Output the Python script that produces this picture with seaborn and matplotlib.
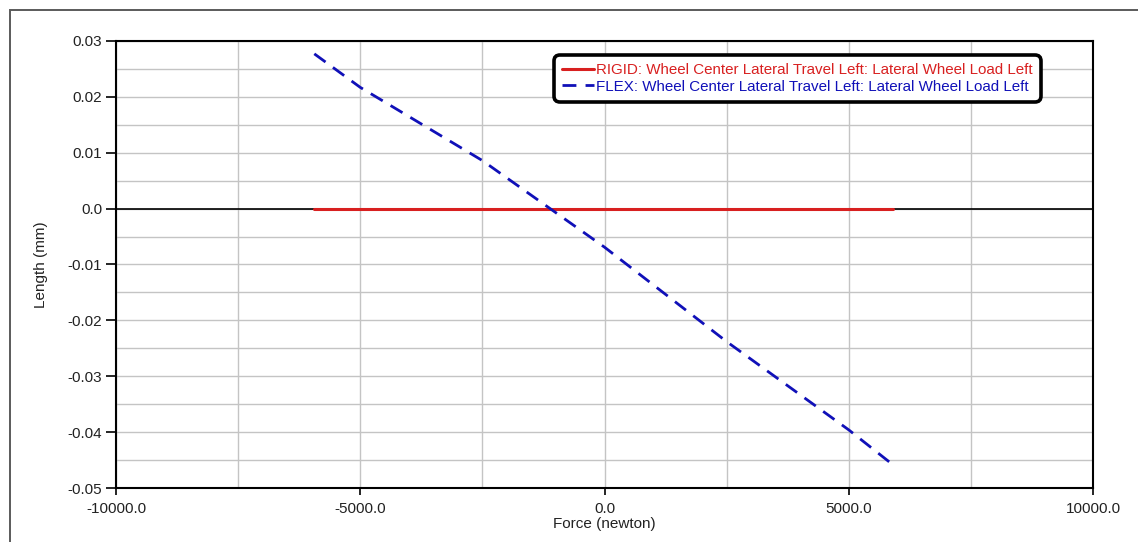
import numpy as np
import pandas as pd
import matplotlib
matplotlib.use("Agg")
import matplotlib.pyplot as plt
from matplotlib.patches import Rectangle
from matplotlib.ticker import MultipleLocator, FixedLocator, FuncFormatter
import seaborn as sns

# Lateral wheel load (N) and wheel-centre lateral travel (mm)
rigid_force = [-5940.0, 5912.0]
rigid_travel = [0.0, 0.0]

flex_force = [-5940.0, -5000.0, -2500.0, 0.0, 2500.0, 5000.0, 5912.0]
flex_travel = [0.0277, 0.0217, 0.0086, -0.0069, -0.0238, -0.0396, -0.0459]

x_tick_values = [-10000.0, -5000.0, 0.0, 5000.0, 10000.0]
y_tick_values = [0.03, 0.02, 0.01, 0.0, -0.01, -0.02, -0.03, -0.04, -0.05]

rigid_label = "RIGID: Wheel Center Lateral Travel Left: Lateral Wheel Load Left"
flex_label = "FLEX: Wheel Center Lateral Travel Left: Lateral Wheel Load Left"

RED = "#d82020"
BLUE = "#1010b8"
TEXT = "#222222"
FS = 11

sns.set_style("white")
plt.rcParams["font.family"] = ["Liberation Sans", "DejaVu Sans"]

fig = plt.figure(figsize=(11.38, 5.42), dpi=100)
ax = fig.add_axes([0.1019, 0.0996, 0.8586, 0.8248])

# outer panel frame
fig.patches.append(Rectangle((10 / 1138, -0.05), 1.2, 1 - 10 / 542 + 0.05,
                             transform=fig.transFigure, fill=False,
                             edgecolor="#5a5a5a", linewidth=1.4))

rigid_df = pd.DataFrame({"force": rigid_force, "travel": rigid_travel})
flex_df = pd.DataFrame({"force": flex_force, "travel": flex_travel})

ax.axhline(0.0, color="black", linewidth=1.2, zorder=1)

sns.lineplot(data=rigid_df, x="force", y="travel", ax=ax, color=RED,
             linewidth=2.2, label=rigid_label, zorder=3)
sns.lineplot(data=flex_df, x="force", y="travel", ax=ax, color=BLUE,
             linewidth=2.0, label=flex_label, zorder=4)
ax.lines[-1].set_dashes([5, 3.3])

ax.set_xlim(-10000, 10000)
ax.set_ylim(-0.05, 0.03)

ax.xaxis.set_major_locator(FixedLocator(x_tick_values))
ax.xaxis.set_minor_locator(MultipleLocator(2500))
ax.yaxis.set_major_locator(FixedLocator(y_tick_values))
ax.yaxis.set_minor_locator(MultipleLocator(0.005))
ax.xaxis.set_major_formatter(FuncFormatter(lambda v, p: f"{v:.1f}"))
ax.yaxis.set_major_formatter(FuncFormatter(lambda v, p: "0.0" if abs(v) < 1e-9 else f"{v:.2f}"))

ax.grid(True, which="both", color="#c4c4c4", linewidth=1.0, zorder=0)
ax.set_axisbelow(True)

ax.tick_params(axis="both", which="both", direction="out", color="black",
               labelsize=FS, labelcolor=TEXT)
ax.tick_params(axis="y", which="both", length=7, width=1.2, pad=3)
ax.tick_params(axis="x", which="both", length=5, width=1.2, pad=5)
ax.tick_params(bottom=True, left=True)

for side in ["left", "bottom", "top", "right"]:
    ax.spines[side].set_visible(True)
    ax.spines[side].set_color("black")
    ax.spines[side].set_linewidth(1.5)

ax.set_xlabel("Force (newton)", fontsize=FS, color=TEXT, labelpad=1)
ax.set_ylabel("Length (mm)", fontsize=FS, color=TEXT, labelpad=14)

leg = ax.legend(loc="upper right", bbox_to_anchor=(0.944, 0.962),
                borderaxespad=0, fontsize=10.9, handlelength=2.1,
                handletextpad=0.15, labelspacing=0.15, borderpad=0.35,
                fancybox=True, framealpha=1.0, edgecolor="black")
leg.get_frame().set_linewidth(2.6)
leg.get_frame().set_boxstyle("round", pad=0.2, rounding_size=0.4)
for text, col in zip(leg.get_texts(), [RED, BLUE]):
    text.set_color(col)

fig.savefig("out.png", dpi=100, facecolor="white")
